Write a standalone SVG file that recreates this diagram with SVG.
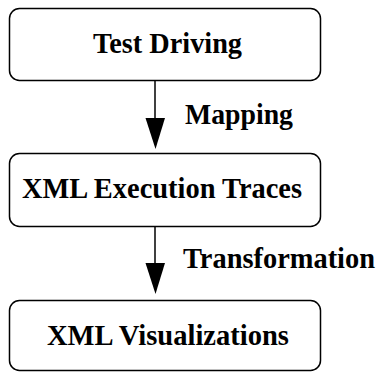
<svg xmlns="http://www.w3.org/2000/svg" width="378" height="372" viewBox="0 0 378 372">
<defs>
<style>
.box{fill:#fff;stroke:#000;stroke-width:1.5}
.t{font-family:"Liberation Serif","Times New Roman",serif;font-weight:bold;font-size:29px;fill:#000}
.ln{stroke:#000;stroke-width:1.5;fill:none}
.ah{fill:#000}
</style>
</defs>
<rect width="378" height="372" fill="#fff"/>
<g id="connectors">
<line class="ln" x1="155" y1="81" x2="155" y2="140"/>
<path class="ah" d="M145.5,118 L165,118 L155.5,149 Z"/>
<line class="ln" x1="155" y1="227" x2="155" y2="285"/>
<path class="ah" d="M145.5,263 L165,263 L155.5,294 Z"/>
<text class="t" x="185" y="124" textLength="108" lengthAdjust="spacingAndGlyphs">Mapping</text>
<text class="t" x="183" y="268" textLength="192" lengthAdjust="spacingAndGlyphs">Transformation</text>
</g>
<g id="test-driving">
<rect class="box" x="9.5" y="8.5" width="311" height="72" rx="10"/>
<text class="t" x="93" y="53" textLength="149" lengthAdjust="spacingAndGlyphs">Test Driving</text>
</g>
<g id="xml-execution-traces">
<rect class="box" x="9.5" y="153.5" width="311" height="73" rx="10"/>
<text class="t" x="22" y="198" textLength="280" lengthAdjust="spacingAndGlyphs">XML Execution Traces</text>
</g>
<g id="xml-visualizations">
<rect class="box" x="9.5" y="300.5" width="311" height="70" rx="10"/>
<text class="t" x="47" y="345" textLength="242" lengthAdjust="spacingAndGlyphs">XML Visualizations</text>
</g>
</svg>
